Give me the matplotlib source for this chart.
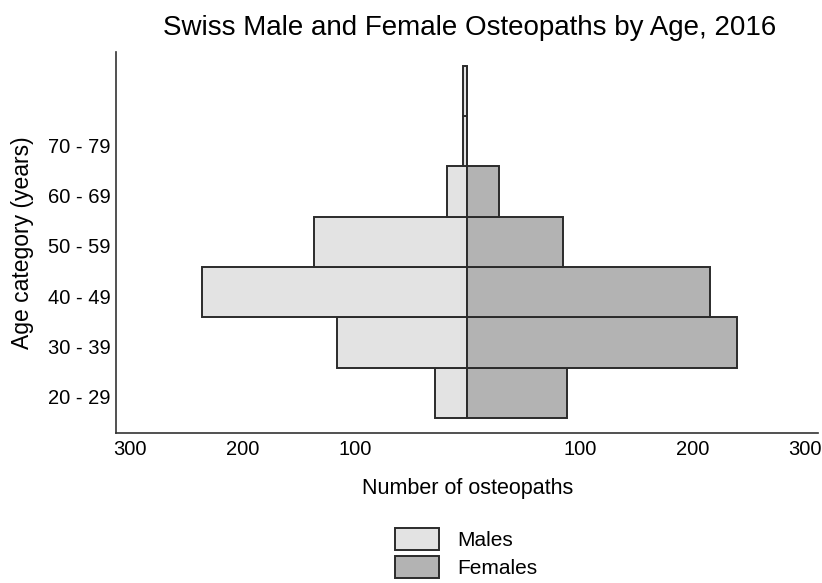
import matplotlib
matplotlib.use("Agg")
import matplotlib.pyplot as plt
import matplotlib.transforms as mtransforms
from matplotlib.patches import Patch

# values
age_groups = ["20 - 29", "30 - 39", "40 - 49", "50 - 59", "60 - 69", "70 - 79", "80 - 89"]
tick_labels = ["20 - 29", "30 - 39", "40 - 49", "50 - 59", "60 - 69", "70 - 79"]
males = [29, 116, 236, 136, 18, 4, 4]
females = [89, 240, 216, 85, 28, 0, 0]
x_ticks = [-300, -200, -100, 100, 200, 300]

MALE_COLOR = "#e3e3e3"
FEMALE_COLOR = "#b3b3b3"
EDGE = "#2b2b2b"

plt.rcParams["font.family"] = ["Liberation Sans", "DejaVu Sans"]

fig = plt.figure(figsize=(8.22, 5.83), dpi=100)
ax = fig.add_axes([0.1415, 0.2573, 0.854, 0.654])

pos = list(range(len(age_groups)))
ax.barh(pos, [-m for m in males], height=1.0, color=MALE_COLOR, edgecolor=EDGE, linewidth=1.4)
ax.barh(pos, females, height=1.0, color=FEMALE_COLOR, edgecolor=EDGE, linewidth=1.4)

ax.set_xlim(-312, 312)
ax.set_ylim(-0.8, 6.78)
ax.set_xticks(x_ticks)
ax.set_xticklabels([str(abs(t)) for t in x_ticks])
ax.set_yticks(range(len(tick_labels)))
ax.set_yticklabels(tick_labels)
ax.tick_params(axis="x", length=0, labelsize=14.5, pad=5, colors="black")
ax.tick_params(axis="y", length=0, labelsize=14.5, pad=4, colors="black")
# y labels sit a little below the bar centres in the reference
shift = mtransforms.ScaledTranslation(0, -4 / 100, fig.dpi_scale_trans)
for lbl in ax.get_yticklabels():
    lbl.set_transform(lbl.get_transform() + shift)

for side in ("top", "right"):
    ax.spines[side].set_visible(False)
for side in ("left", "bottom"):
    ax.spines[side].set_color("#333333")
    ax.spines[side].set_linewidth(1.2)

ax.set_xlabel("Number of osteopaths", fontsize=15.5, labelpad=14)
ax.set_ylabel("Age category (years)", fontsize=16.5, labelpad=10)
fig.text(0.571, 0.952, "Swiss Male and Female Osteopaths by Age, 2016",
         fontsize=20, ha="center", va="center")

handles = [Patch(facecolor=MALE_COLOR, edgecolor=EDGE, linewidth=1.4, label="Males"),
           Patch(facecolor=FEMALE_COLOR, edgecolor=EDGE, linewidth=1.4, label="Females")]
fig.legend(handles=handles, loc="upper left", bbox_to_anchor=(0.48, 0.095),
           frameon=False, fontsize=15, handlelength=2.15, handleheight=1.25,
           handletextpad=0.85, labelspacing=0.32, borderpad=0, borderaxespad=0)

fig.savefig("out.png", dpi=100, facecolor="white")
